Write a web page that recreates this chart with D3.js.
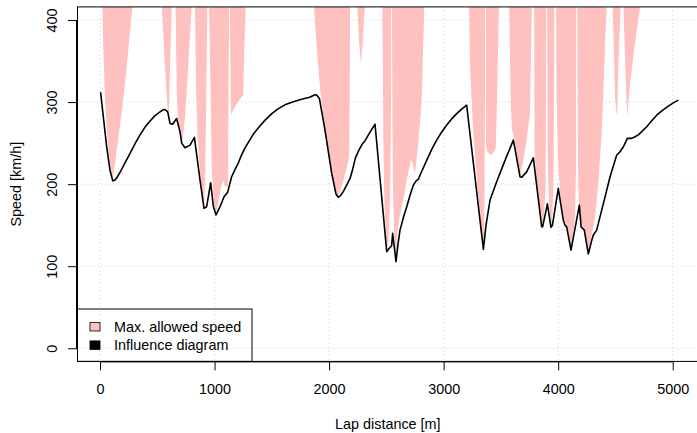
<!DOCTYPE html>
<html>
<head>
<meta charset="utf-8">
<script src="https://cdn.jsdelivr.net/npm/d3@7"></script>
<style>
body { margin: 0; background: #fff; }
text { font-family: "Liberation Sans", Arial, sans-serif; font-size: 14.4px; fill: #000; }
</style>
</head>
<body>
<svg width="697" height="433"></svg>
<script>
// speed from the influence diagram, lap distance in m -> km/h
const speedDist = [5, 29, 58, 87, 111, 131, 150, 175, 218, 262, 306, 349, 393, 437, 480, 524, 550, 568, 591, 611, 634, 669, 698, 713, 742, 786,
  824, 873, 908, 931, 966, 990, 1013, 1048, 1083, 1114, 1149, 1179, 1208, 1237, 1265, 1295, 1339, 1390, 1441, 1500, 1557, 1620, 1688, 1760, 1830, 1877, 1892, 1915,
  1940, 1964, 2023, 2060, 2080, 2100, 2124, 2150, 2183, 2200, 2230, 2255, 2290, 2314, 2360, 2401, 2503, 2520, 2546, 2555,
  2584, 2600, 2619, 2650, 2678, 2710, 2736, 2760, 2779, 2800, 2852, 2895, 2939, 2983, 3027, 3070, 3114, 3158, 3201, 3347, 3370, 3405, 3463, 3536,
  3609, 3667, 3681, 3725, 3783, 3856, 3864, 3906, 3937, 3950, 4001, 4045, 4060, 4074, 4112, 4185, 4200, 4228, 4263, 4290,
  4307, 4336, 4395, 4453, 4511, 4540, 4569, 4604, 4642, 4671, 4700, 4773, 4815, 4860, 4910, 4962, 5005, 5049];
const speedKmh = [312, 282, 245.5, 217, 204, 205, 208.5, 214.5, 226, 237.5, 249.5, 260, 269.5, 277, 283.5, 288, 290.5, 291, 288, 274, 273, 280, 264, 250, 244.3, 247.6,
  257, 205, 170.5, 172.5, 201.7, 172.5, 162.4, 172.5, 184.7, 190, 209, 218, 226, 236, 244, 251, 261, 270, 278, 286, 292, 297, 300.5, 303.5, 306, 309, 308.5, 304.5,
  285, 266, 213, 188, 184, 186, 191, 198, 207, 215, 232, 240, 249, 253, 264, 273, 117.7, 121, 125, 140,
  105.5, 125, 144, 160, 172.5, 188, 199, 204, 206, 213, 229, 242, 253.7, 263.5, 272, 279.5, 286, 291.5, 296.3, 120.6, 150, 180.6, 203, 229,
  253.7, 209, 208.3, 215, 232, 148, 148, 176, 147.4, 150, 195, 156, 150, 148, 119.7, 174.5, 148, 144, 114.9, 130,
  138, 144, 176.6, 209, 235.4, 239.5, 245.5, 255.8, 255.8, 257.7, 260, 270, 277, 284, 290, 295, 299, 302.4];

// max. allowed speed near each corner (null = no limit between corners)
const limitDist = [
  20, 29, 44, 72, 102, 111, 146, 189, 233, 285, null,
  538, 567, 588, 596, 602, 611, 627, null,
  659, 665, 672, 684, 700, 712, 718, 730, 742, 771, 801, null,
  828, 841, 850, 879, 902, 908, 917, 925, 931, 937, null,
  952, 966, 975, 990, 1004, 1013, 1041, 1062, 1077, 1090, 1105, 1118, 1121, 1124, 1127, null,
  1134, 1139, 1144, 1161, 1193, 1237, 1251, 1257, 1273, null,
  1866, 1895, 1925, 1965, 2010, 2050, 2068, 2080, 2100, 2130, 2176, 2180, 2183, null,
  2246, 2261, 2276, 2280, 2294, 2314, null,
  2465, 2473, 2482, 2497, 2503, 2519, 2532, 2541, 2543, null,
  2549, 2552, 2557, 2565, 2575, 2584, 2595, 2619, 2648, 2678, 2713, 2729, 2750, 2779, 2808, 2832, null,
  3221, 3230, 3259, 3294, 3323, 3347, 3354, 3358, 3361, 3362, null,
  3370, 3370, 3380, 3400, 3420, 3440, 3455, 3466, 3484, null,
  3572, 3585, 3597, 3619, 3638, 3661, 3667, 3675, 3696, 3725, 3754, 3770, null,
  3790, 3794, 3807, 3833, 3859, 3876, 3889, 3894, 3896, null,
  3904, 3908, 3915, 3928, 3937, 3950, 3959, 3964, 3966, null,
  3981, 3987, 4001, 4022, 4051, 4074, 4103, 4112, 4132, 4147, 4156, 4157, null,
  4167, 4170, 4175, 4180, 4190, 4196, 4213, 4233, 4257, 4263, 4284, 4301, 4322, 4351, 4380, 4403, 4424, null,
  4475, 4498, 4511, 4516, 4525, 4546, null,
  4569, 4586, 4598, 4604, 4628, 4671, 4720];
const limitKmh = [
  420, 363, 302, 241.5, 211, 205, 241.5, 286, 343, 420, null,
  420, 343, 294, 286, 290, 343, 420, null,
  420, 360, 302, 275, 265, 253, 251, 265, 282, 343, 420, null,
  420, 302, 262, 203, 178, 172, 205, 278, 351, 420, null,
  420, 302, 221, 186, 167, 164, 185, 200, 204, 197, 197, 198, 300, 360, 420, null,
  420, 327, 285, 290, 298, 306.5, 308.5, 351, 420, null,
  420, 360, 310, 268, 226, 196, 187, 185, 193, 207, 233, 300, 420, null,
  420, 375, 349, 349, 375, 420, null,
  420, 262, 181, 132, 119, 132, 180, 302, 420, null,
  420, 302, 200, 150, 125, 106, 140, 162, 181, 205, 229, 226, 213, 250, 302, 420, null,
  420, 343, 262, 201, 152, 121, 140, 221, 302, 420, null,
  420, 248, 240, 236.5, 236, 239, 244, 302, 420, null,
  420, 302, 266, 254, 234, 215, 211, 215, 229, 254, 286, 420, null,
  420, 242, 208, 177, 149, 162, 193, 302, 420, null,
  420, 242, 193, 163, 149, 163, 205, 302, 420, null,
  420, 302, 221, 181, 156, 150, 128, 121, 140, 160, 221, 420, null,
  420, 302, 201, 180, 170, 158, 148, 142, 122, 116, 132, 144, 160, 201, 262, 343, 420, null,
  420, 302, 284, 287, 343, 420, null,
  420, 343, 294, 283, 323, 372, 420];

const xTicks = [0, 1000, 2000, 3000, 4000, 5000];
const yTicks = [0, 100, 200, 300, 400];
const legendLabels = ['Max. allowed speed', 'Influence diagram'];
const legendColors = ['#ffc0c0', '#000000'];

const svg = d3.select('svg');

const x = d3.scaleLinear().domain([-201, 5226]).range([77, 698.6]);
const y = d3.scaleLinear().domain([-16, 416]).range([361.4, 6.9]);

const pLeft = 77, pTop = 6.9, pBottom = 361.4, pRight = 698.6;

svg.append('defs').append('clipPath').attr('id', 'plot')
  .append('rect')
  .attr('x', pLeft).attr('y', pTop)
  .attr('width', pRight - pLeft).attr('height', pBottom - pTop);

// dotted grid
svg.append('g').selectAll('line').data(xTicks)
  .enter().append('line')
  .attr('x1', d => x(d)).attr('x2', d => x(d))
  .attr('y1', pTop).attr('y2', pBottom)
  .attr('stroke', '#d3d3d3').attr('stroke-dasharray', '1,3');
svg.append('g').selectAll('line').data(yTicks)
  .enter().append('line')
  .attr('y1', d => y(d)).attr('y2', d => y(d))
  .attr('x1', pLeft).attr('x2', pRight)
  .attr('stroke', '#d3d3d3').attr('stroke-dasharray', '1,3');

// max allowed speed: filled from the limit curve upwards
const limit = limitDist.map((d, i) => ({ d: d, v: limitKmh[i] }));
const area = d3.area()
  .defined(p => p.d != null)
  .x(p => x(p.d))
  .y0(y(460))
  .y1(p => y(p.v));

svg.append('path')
  .datum(limit)
  .attr('clip-path', 'url(#plot)')
  .attr('fill', legendColors[0])
  .attr('d', area);

const speed = speedDist.map((d, i) => ({ d: d, v: speedKmh[i] }));
const line = d3.line().x(p => x(p.d)).y(p => y(p.v));

svg.append('path')
  .datum(speed)
  .attr('clip-path', 'url(#plot)')
  .attr('fill', 'none')
  .attr('stroke', '#000')
  .attr('stroke-width', 1.6)
  .attr('stroke-linejoin', 'round')
  .attr('d', line);

// axes
const xAxis = svg.append('g').attr('transform', `translate(0,${pBottom})`)
  .call(d3.axisBottom(x).tickValues(xTicks).tickFormat(d3.format('d'))
    .tickSize(9).tickPadding(13).tickSizeOuter(0));
const yAxis = svg.append('g').attr('transform', `translate(${pLeft},0)`)
  .call(d3.axisLeft(y).tickValues(yTicks).tickFormat(d3.format('d')).tickSize(9).tickSizeOuter(0));

xAxis.select('.domain').attr('d', `M${x(0)},0.5H${x(5000)}`).attr('stroke', '#000');
yAxis.select('.domain').attr('d', `M-0.5,${y(0)}V${y(400)}`).attr('stroke', '#000');
svg.selectAll('.tick line').attr('stroke', '#000');
svg.selectAll('.tick text').attr('font-size', null).attr('font-family', null);
yAxis.selectAll('.tick text')
  .attr('x', null).attr('dy', null)
  .attr('text-anchor', 'middle')
  .attr('transform', 'translate(-20.5,0) rotate(-90)');

// box
svg.append('rect')
  .attr('x', pLeft + 0.5).attr('y', pTop)
  .attr('width', pRight - pLeft).attr('height', pBottom - pTop)
  .attr('fill', 'none').attr('stroke', '#000').attr('stroke-width', 1);

// titles
svg.append('text')
  .attr('x', (pLeft + pRight) / 2).attr('y', 428.5)
  .attr('text-anchor', 'middle')
  .text('Lap distance [m]');
svg.append('text')
  .attr('transform', `translate(20.5,${(pTop + pBottom) / 2}) rotate(-90)`)
  .attr('text-anchor', 'middle')
  .text('Speed [km/h]');

// legend (no background, grid shows through)
const legend = svg.append('g');
legend.append('rect')
  .attr('x', pLeft + 0.5).attr('y', 309)
  .attr('width', 174.5).attr('height', pBottom - 309)
  .attr('fill', 'none').attr('stroke', '#000');
legendLabels.forEach((lab, i) => {
  legend.append('rect')
    .attr('x', 90).attr('y', 322.5 + i * 18.4)
    .attr('width', 10).attr('height', 8.5)
    .attr('fill', legendColors[i]).attr('stroke', '#000').attr('stroke-width', 0.8);
  legend.append('text')
    .attr('x', 114).attr('y', 331.7 + i * 18.4)
    .text(lab);
});
</script>
</body>
</html>
